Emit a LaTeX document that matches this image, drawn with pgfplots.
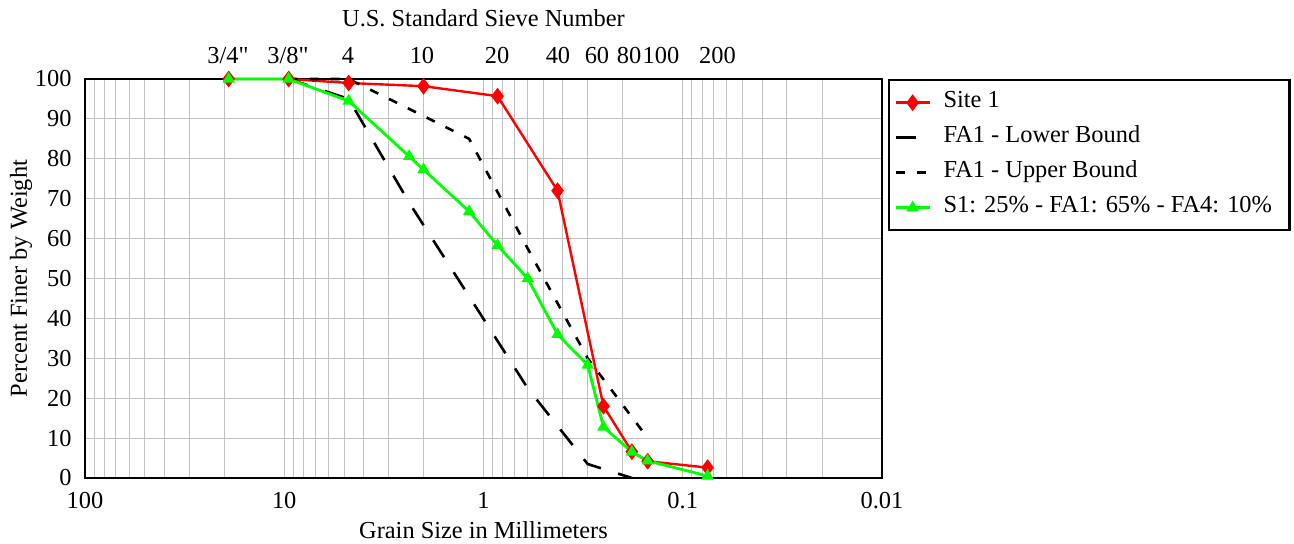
\documentclass[border=0pt]{standalone}
\usepackage{fontspec}
\setmainfont{Liberation Serif}[Ligatures=TeXOff]
\usepackage{pgfplots}
\pgfplotsset{compat=1.18}
\definecolor{gridgray}{RGB}{192,192,192}
\definecolor{limegreen}{RGB}{0,255,0}
\newcommand{\chartfont}{\fontsize{12.2}{14.6}\selectfont}
\begin{document}
\chartfont
\begin{tikzpicture}
\useasboundingbox (-42.5pt,-33pt) rectangle (604.5pt,239pt);
% top axis with sieve numbers
\begin{axis}[
  scale only axis, width=398.5pt, height=199.5pt,
  xmode=log, x dir=reverse, xmin=0.01, xmax=100,
  ymin=0, ymax=100,
  axis x line*=top, hide y axis,
  x axis line style={draw=none},
  major tick length=0pt, minor tick length=0pt,
  xtick={19.16,9.576,4.787,2.0355,0.8555,0.4228,0.2694,0.186,0.1285,0.0669},
  xticklabels={3/4",3/8",4,10,20,40,60,80,100,200},
  minor xtick={},
  xticklabel style={font=\chartfont, yshift=3.4pt},
  xlabel={U.S. Standard Sieve Number},
  xlabel style={font=\chartfont, at={(axis description cs:0.5,1)}, anchor=center, yshift=30.5pt},
]
\end{axis}
\begin{axis}[
  scale only axis, width=398.5pt, height=199.5pt,
  xmode=log, x dir=reverse, xmin=0.01, xmax=100,
  ymin=0, ymax=100, ytick={0,10,...,100},
  xtick={100,10,1,0.1,0.01}, xticklabels={100,10,1,0.1,0.01},
  minor xtick={0.02,0.03,0.04,0.05,0.06,0.07,0.08,0.09,0.2,0.3,0.4,0.5,0.6,0.7,0.8,0.9,2,3,4,5,6,7,8,9,20,30,40,50,60,70,80,90},
  xmajorgrids, xminorgrids, ymajorgrids,
  grid style={gridgray, line width=0.5pt},
  minor grid style={gridgray, line width=0.5pt},
  major tick length=0pt, minor tick length=0pt,
  axis line style={line width=1.4pt},
  /pgf/number format/assume math mode=true,
  xticklabel style={font=\chartfont, yshift=-3pt},
  yticklabel style={font=\chartfont, xshift=-2.5pt},
  xlabel={Grain Size in Millimeters},
  ylabel={Percent Finer by Weight},
  xlabel style={font=\chartfont, at={(axis description cs:0.5,0)}, anchor=center, yshift=-26pt},
  ylabel style={font=\chartfont, at={(axis description cs:0,0.5)}, anchor=center, yshift=32pt},
  clip=false,
  legend cell align=left,
  legend style={at={(1,1)}, anchor=north west, xshift=3pt, draw=black, line width=1.2pt,
    font=\chartfont, inner xsep=2.5pt, inner ysep=2.5pt,
    nodes={inner ysep=2.25pt, inner xsep=6.2pt, text height=9pt, text depth=4pt}},
]
\addplot[red, line width=1.2pt, mark=diamond*, mark size=3.4pt, mark options={solid, fill=red, line width=1pt}]
coordinates {(19,100) (9.5,100) (4.75,99) (2.0,98.2) (0.85,95.7) (0.425,72) (0.25,18) (0.18,6.6) (0.15,4.2) (0.075,2.6)};
\addlegendentry{Site 1}
\addplot[black, line width=1.3pt, dash pattern=on 10pt off 9pt]
coordinates {(9.5,100) (4.75,95) (2.36,69) (1.18,45.5) (0.6,22.5) (0.3,3.5) (0.18,0)};
\addlegendentry{FA1 - Lower Bound}
\addplot[black, line width=1.3pt, dash pattern=on 4.5pt off 6pt]
coordinates {(9.5,100) (4.75,100) (2.36,92.5) (1.18,85) (0.6,57.5) (0.3,30) (0.15,10)};
\addlegendentry{FA1 - Upper Bound}
\addplot[limegreen, line width=1.4pt, mark=triangle*, mark size=2.8pt, mark options={solid, fill=limegreen, line width=0.8pt}]
coordinates {(19,100) (9.5,100) (4.75,94.5) (2.36,80.6) (2.0,77.3) (1.18,66.8) (0.85,58.3) (0.6,50) (0.425,36) (0.3,28.3) (0.25,12.8) (0.18,6.5) (0.15,4.3) (0.075,0.5)};
\addlegendentry{S1: 25\% - FA1: 65\% - FA4: 10\%}
\end{axis}
\end{tikzpicture}
\end{document}
